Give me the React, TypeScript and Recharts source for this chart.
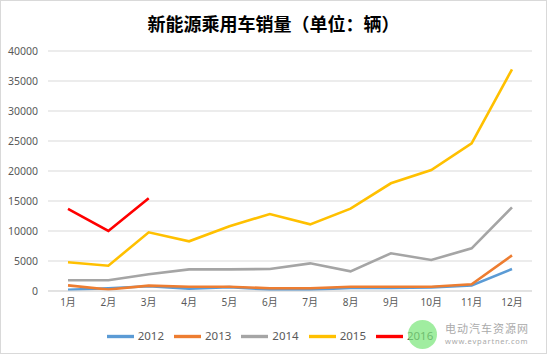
import { LineChart, Line, XAxis, YAxis, CartesianGrid, Legend } from 'recharts';

const MONTHS = ['1月', '2月', '3月', '4月', '5月', '6月', '7月', '8月', '9月', '10月', '11月', '12月'];
const Y_TICKS = [0, 5000, 10000, 15000, 20000, 25000, 30000, 35000, 40000];

const S2012 = [220, 450, 780, 400, 650, 220, 220, 500, 500, 600, 940, 3670];
const S2013 = [940, 250, 890, 720, 720, 450, 450, 720, 720, 720, 1110, 5940];
const S2014 = [1780, 1780, 2780, 3610, 3610, 3670, 4610, 3280, 6280, 5170, 7110, 13950];
const S2015 = [4780, 4220, 9780, 8280, 10780, 12830, 11110, 13720, 17950, 20170, 24600, 36950];
const S2016 = [13670, 10000, 15450];

const SERIES = [
    { key: '2012', color: '#5B9BD5' },
    { key: '2013', color: '#ED7D31' },
    { key: '2014', color: '#A5A5A5' },
    { key: '2015', color: '#FFC000' },
    { key: '2016', color: '#FF0000' },
];

const data = MONTHS.map((m, i) => ({
    month: m,
    '2012': S2012[i],
    '2013': S2013[i],
    '2014': S2014[i],
    '2015': S2015[i],
    '2016': S2016[i],
}));

const FONT = '"Noto Sans", "Noto Sans CJK SC", sans-serif';

export default function App() {
    return (
        <div style={{
            position: 'absolute', left: 0, top: 0, width: 547, height: 354,
            boxSizing: 'border-box', border: '1px solid #d9d9d9', background: '#fff', fontFamily: FONT,
        }}>
            <div style={{
                position: 'absolute', left: 0, top: 9, width: 545, textAlign: 'center',
                fontSize: 18, fontWeight: 'bold', color: '#000', fontFamily: '"Noto Sans CJK SC", sans-serif',
            }}>
                新能源乘用车销量（单位：辆）
            </div>

            <div style={{ position: 'absolute', left: -1, top: -1 }}>
                <LineChart width={547} height={354} data={data} margin={{ top: 51, right: 15, left: 0, bottom: 4 }}>
                    <CartesianGrid vertical={false} stroke="#d9d9d9" />
                    <XAxis dataKey="month" tickLine={false} axisLine={{ stroke: '#d9d9d9' }} padding={{ left: 20, right: 20 }}
                        height={32} interval={0} tick={{ fill: '#595959', fontSize: 10 }} />
                    <YAxis domain={[0, 40000]} ticks={Y_TICKS} width={48} tickLine={false} axisLine={false}
                        tickMargin={4} tick={{ fill: '#595959', fontSize: 10.5 }} />
                    <Legend verticalAlign="bottom" iconType="plainline" iconSize={27}
                        wrapperStyle={{ fontSize: 11.5, color: '#595959', left: 100, width: 350 }}
                        formatter={(v: string) => <span style={{ color: '#595959' }}>{v}</span>} />
                    {SERIES.map(s => (
                        <Line key={s.key} type="linear" dataKey={s.key} stroke={s.color} strokeWidth={2.6}
                            dot={false} activeDot={false} isAnimationActive={false} connectNulls={false} />
                    ))}
                </LineChart>
            </div>

            <div style={{
                position: 'absolute', left: 407, top: 319, width: 29, height: 29, borderRadius: '50%',
                background: 'rgba(120, 230, 120, 0.7)',
            }} />
            <div style={{ position: 'absolute', left: 444, top: 319, color: '#aaa', fontSize: 11, letterSpacing: 1 }}>
                电动汽车资源网
            </div>
            <div style={{ position: 'absolute', left: 444, top: 335, color: '#aaa', fontSize: 7.5, letterSpacing: 0.8 }}>
                www.evpartner.com
            </div>
        </div>
    );
}
